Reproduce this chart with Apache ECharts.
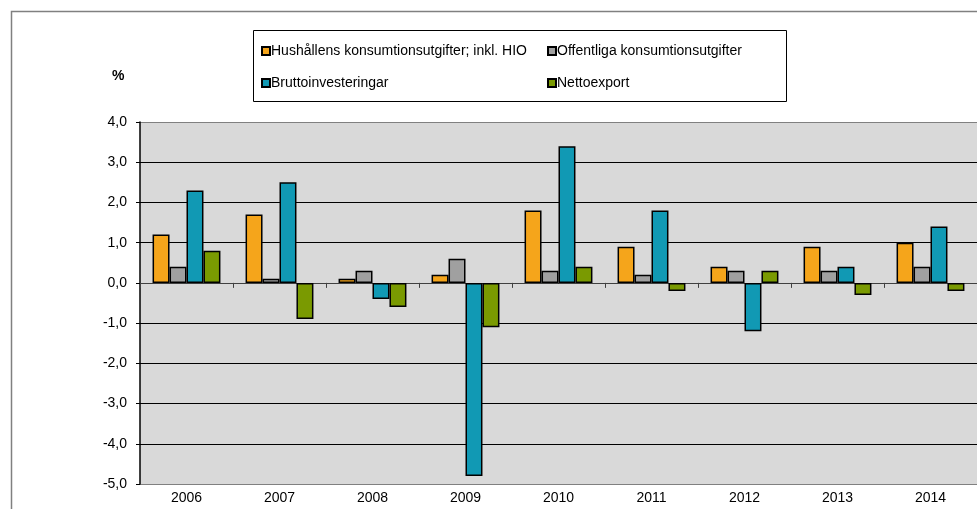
<!DOCTYPE html>
<html><head><meta charset="utf-8">
<script src="https://cdn.jsdelivr.net/npm/echarts@6/dist/echarts.min.js"></script>
<style>html,body{margin:0;padding:0;background:#fff}#c{width:977px;height:509px}</style>
</head><body><div id="c"></div>
<script>
var years = ['2006','2007','2008','2009','2010','2011','2012','2013','2014'];
var hushall = [1.2, 1.7, 0.1, 0.2, 1.8, 0.9, 0.4, 0.9, 1.0];
var offentliga = [0.4, 0.1, 0.3, 0.6, 0.3, 0.2, 0.3, 0.3, 0.4];
var brutto = [2.3, 2.5, -0.4, -4.8, 3.4, 1.8, -1.2, 0.4, 1.4];
var netto = [0.8, -0.9, -0.6, -1.1, 0.4, -0.2, 0.3, -0.3, -0.2];
var names = ['Hushållens konsumtionsutgifter; inkl. HIO','Offentliga konsumtionsutgifter','Bruttoinvesteringar','Nettoexport'];
var colors = ['#F5A51B','#A0A0A0','#1199B4','#7A9A01'];
var FONT = 'Liberation Sans, Arial, sans-serif';

var chart = echarts.init(document.getElementById('c'));
var datasets = [hushall, offentliga, brutto, netto];
var series = datasets.map(function(d,i){
  return {name:names[i], type:'bar', data:d, barGap:'0%', barCategoryGap:'27%',
    itemStyle:{color:colors[i], borderColor:'#000', borderWidth:1.5}, animation:false};
});
var gridColors = ['#808080','#000','#000','#000','#000','#000','#000','#000','#000','#808080'];
chart.setOption({
  animation:false,
  textStyle:{fontFamily:FONT},
  graphic:[
    {type:'rect', shape:{x:11.5,y:11.5,width:1000,height:600}, style:{fill:'none', stroke:'#808080', lineWidth:1.5}, z:-10},
    {type:'rect', shape:{x:253.5,y:30.5,width:533,height:71}, style:{fill:'#fff', stroke:'#000', lineWidth:1}, z:0},
    {type:'text', left:112, top:69, style:{text:'%', font:'bold 14px '+FONT, fill:'#000'}}
  ],
  legend:[
    {data:[names[0],names[2]], orient:'vertical', left:256, top:39, itemWidth:8, itemHeight:8, itemGap:18,
      icon:'rect', textStyle:{fontSize:14, color:'#000', fontFamily:FONT, padding:[0,0,0,-4]}, z:5},
    {data:[names[1],names[3]], orient:'vertical', left:542, top:39, itemWidth:8, itemHeight:8, itemGap:18,
      icon:'rect', textStyle:{fontSize:14, color:'#000', fontFamily:FONT, padding:[0,0,0,-4]}, z:5}
  ],
  grid:{left:140, top:122, right:0, bottom:25, show:true, backgroundColor:'#D9D9D9', borderWidth:0},
  xAxis:[
    {type:'category', data:years, position:'bottom', axisLine:{onZero:true, lineStyle:{color:'#404040', width:1}},
      axisTick:{show:true, length:5, lineStyle:{color:'#404040'}}, axisLabel:{show:false}},
    {type:'category', data:years, position:'bottom', axisLine:{show:false}, axisTick:{show:false},
      axisLabel:{color:'#000', fontSize:14, margin:7, fontFamily:FONT}}
  ],
  yAxis:{type:'value', min:-5, max:4, interval:1,
    axisLine:{show:true, lineStyle:{color:'#000', width:1.5}},
    axisTick:{show:true, length:4, lineStyle:{color:'#000'}},
    axisLabel:{color:'#000', fontSize:14, margin:13, fontFamily:FONT,
      formatter:function(v){return v.toFixed(1).replace('.',',');}},
    splitLine:{show:true, lineStyle:{color:gridColors, width:1.2}}},
  series:series
});
</script></body></html>
